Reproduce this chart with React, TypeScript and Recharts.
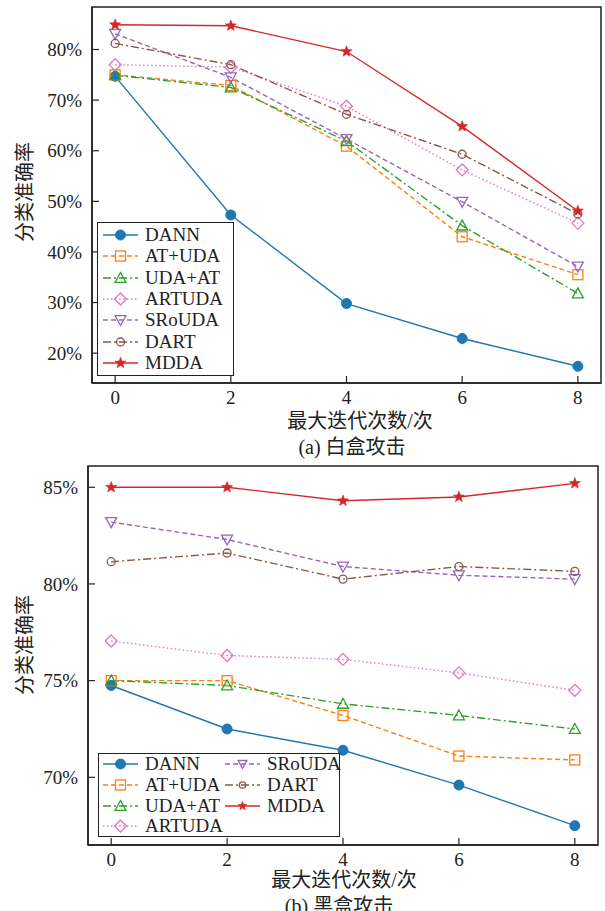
import React from 'react'
import { LineChart, Line, XAxis, YAxis, ReferenceArea } from 'recharts'

const FONT = '"Liberation Serif", "Noto Sans CJK SC", serif'
const INK = '#222'

const iterations = [0, 2, 4, 6, 8]
const xTicks = [0, 2, 4, 6, 8]

// (a) 白盒攻击
const whiteDANN = [74.7, 47.3, 29.8, 22.9, 17.4]
const whiteATUDA = [75.0, 72.9, 60.9, 43.0, 35.5]
const whiteUDAAT = [74.9, 72.5, 61.9, 45.2, 31.8]
const whiteARTUDA = [77.0, 76.5, 68.8, 56.2, 45.7]
const whiteSRoUDA = [83.1, 74.5, 62.3, 49.9, 37.1]
const whiteDART = [81.2, 77.0, 67.2, 59.3, 47.5]
const whiteMDDA = [84.9, 84.7, 79.6, 64.8, 48.1]
const whiteTicks = [20, 30, 40, 50, 60, 70, 80]

// (b) 黑盒攻击
const blackDANN = [74.75, 72.5, 71.4, 69.6, 67.5]
const blackATUDA = [75.0, 75.0, 73.2, 71.1, 70.9]
const blackUDAAT = [75.0, 74.75, 73.8, 73.2, 72.5]
const blackARTUDA = [77.05, 76.3, 76.1, 75.4, 74.5]
const blackSRoUDA = [83.2, 82.3, 80.9, 80.45, 80.25]
const blackDART = [81.15, 81.6, 80.25, 80.9, 80.65]
const blackMDDA = [85.0, 85.0, 84.3, 84.5, 85.2]
const blackTicks = [70, 75, 80, 85]

type Shape = 'circle' | 'square' | 'triUp' | 'diamond' | 'triDown' | 'ring' | 'star'

const SERIES: { key: string; color: string; dash?: string; shape: Shape }[] = [
  { key: 'DANN', color: '#1f77b4', shape: 'circle' },
  { key: 'AT+UDA', color: '#ff7f0e', dash: '5 3', shape: 'square' },
  { key: 'UDA+AT', color: '#2ca02c', dash: '8 3 2 3', shape: 'triUp' },
  { key: 'ARTUDA', color: '#e377c2', dash: '1.5 2.5', shape: 'diamond' },
  { key: 'SRoUDA', color: '#9467bd', dash: '5 3', shape: 'triDown' },
  { key: 'DART', color: '#8c564b', dash: '8 3 2 3', shape: 'ring' },
  { key: 'MDDA', color: '#d62728', shape: 'star' },
]

function rows(cols: number[][]) {
  return iterations.map((it, i) => {
    const r: Record<string, number> = { it }
    SERIES.forEach((s, j) => { r[s.key] = cols[j][i] })
    return r
  })
}

const whiteData = rows([whiteDANN, whiteATUDA, whiteUDAAT, whiteARTUDA, whiteSRoUDA, whiteDART, whiteMDDA])
const blackData = rows([blackDANN, blackATUDA, blackUDAAT, blackARTUDA, blackSRoUDA, blackDART, blackMDDA])

function starPath(cx: number, cy: number, R: number) {
  const r = R * 0.42
  let d = ''
  for (let i = 0; i < 10; i++) {
    const rad = i % 2 ? r : R
    const a = -Math.PI / 2 + (i * Math.PI) / 5
    d += (i ? 'L' : 'M') + (cx + rad * Math.cos(a)).toFixed(2) + ',' + (cy + rad * Math.sin(a)).toFixed(2)
  }
  return d + 'Z'
}

function Marker({ shape, cx, cy, color, s = 1 }: { shape: Shape; cx: number; cy: number; color: string; s?: number }) {
  const sw = 1.3
  switch (shape) {
    case 'circle':
      return <circle cx={cx} cy={cy} r={5 * s} fill={color} stroke={color} strokeWidth={1} />
    case 'square':
      return <rect x={cx - 5 * s} y={cy - 5 * s} width={10 * s} height={10 * s} fill="none" stroke={color} strokeWidth={sw} />
    case 'triUp': {
      const h = 5.5 * s
      return <polygon points={`${cx},${cy - h} ${cx + h},${cy + h * 0.8} ${cx - h},${cy + h * 0.8}`} fill="none" stroke={color} strokeWidth={sw} />
    }
    case 'triDown': {
      const h = 5.5 * s
      return <polygon points={`${cx},${cy + h} ${cx + h},${cy - h * 0.8} ${cx - h},${cy - h * 0.8}`} fill="none" stroke={color} strokeWidth={sw} />
    }
    case 'diamond': {
      const h = 6 * s
      return <polygon points={`${cx},${cy - h} ${cx + h},${cy} ${cx},${cy + h} ${cx - h},${cy}`} fill="none" stroke={color} strokeWidth={sw} />
    }
    case 'ring':
      return <circle cx={cx} cy={cy} r={4 * s} fill="none" stroke={color} strokeWidth={sw} />
    case 'star':
      return <path d={starPath(cx, cy, 5.8 * s)} fill={color} stroke={color} strokeWidth={0.6} />
  }
}

function LegendBox({ left, top, width, height, items }: {
  left: number; top: number; width: number; height: number
  items: { idx: number; x: number; y: number; s?: number }[]
}) {
  return (
    <div style={{ position: 'absolute', left, top, width, height, border: `1.5px solid ${INK}`, background: '#fff', boxSizing: 'border-box' }}>
      {items.map(({ idx, x, y, s }) => {
        const it = SERIES[idx]
        return (
          <div key={it.key} style={{ position: 'absolute', left: x, top: y - 10, height: 20, display: 'flex', alignItems: 'center' }}>
            <svg width={36} height={20}>
              <line x1={0} y1={10} x2={35} y2={10} stroke={it.color} strokeWidth={1.4} strokeDasharray={it.dash} />
              <Marker shape={it.shape} cx={17.5} cy={10} color={it.color} s={s ?? 1} />
            </svg>
            <span style={{ marginLeft: 6, fontSize: 19, color: INK, lineHeight: '20px' }}>{it.key}</span>
          </div>
        )
      })}
    </div>
  )
}

function Centered({ x, y, text, rotate = false, size = 19 }: { x: number; y: number; text: string; rotate?: boolean; size?: number }) {
  return (
    <div style={{
      position: 'absolute', left: x, top: y, whiteSpace: 'nowrap', fontSize: size, color: INK, lineHeight: 1,
      transform: `translate(-50%, -50%)${rotate ? ' rotate(-90deg)' : ''}`,
    }}>{text}</div>
  )
}

function Panel({ top, height, data, domain, ticks, plot, caption, yLabelY, xLabel, capPos, legend }: {
  top: number; height: number; data: Record<string, number>[]; domain: [number, number]; ticks: number[]
  plot: { left: number; right: number; top: number; bottom: number }
  caption: string; yLabelY: number
  xLabel: [number, number]; capPos: [number, number]
  legend: React.ReactNode
}) {
  const xAxisH = 30
  return (
    <div style={{ position: 'absolute', left: 0, top, width: 605, height }}>
      <LineChart
        width={605}
        height={height}
        data={data}
        margin={{ top: plot.top, right: 605 - plot.right, bottom: height - plot.bottom - xAxisH, left: 0 }}
      >
        <XAxis
          dataKey="it"
          type="number"
          domain={[-0.4, 8.4]}
          ticks={xTicks}
          allowDataOverflow
          height={xAxisH}
          tickSize={-7}
          tickMargin={15}
          axisLine={{ stroke: INK, strokeWidth: 1.5 }}
          tickLine={{ stroke: INK, strokeWidth: 1.2 }}
          tick={{ fill: INK, fontSize: 19, fontFamily: FONT }}
        />
        <YAxis
          type="number"
          domain={domain}
          ticks={ticks}
          allowDataOverflow
          width={plot.left}
          tickSize={-7}
          tickMargin={17}
          tickFormatter={(v: number) => `${v}%`}
          axisLine={{ stroke: INK, strokeWidth: 1.5 }}
          tickLine={{ stroke: INK, strokeWidth: 1.2 }}
          tick={{ fill: INK, fontSize: 19, fontFamily: FONT }}
        />
        <ReferenceArea x1={-0.4} x2={8.4} y1={domain[0]} y2={domain[1]} fill="none" stroke={INK} strokeWidth={1.5} />
        {SERIES.map((s) => (
          <Line
            key={s.key}
            type="linear"
            dataKey={s.key}
            stroke={s.color}
            strokeWidth={1.4}
            strokeDasharray={s.dash}
            isAnimationActive={false}
            dot={(p: any) => <Marker key={`${s.key}-${p.index}`} shape={s.shape} cx={p.cx} cy={p.cy} color={s.color} />}
            activeDot={false}
          />
        ))}
      </LineChart>
      {legend}
      <Centered x={25} y={yLabelY} text="分类准确率" rotate size={20} />
      <Centered x={xLabel[0]} y={xLabel[1]} text="最大迭代次数/次" size={20} />
      <Centered x={capPos[0]} y={capPos[1]} text={caption} size={20} />
    </div>
  )
}

export default function App() {
  return (
    <div style={{ position: 'relative', width: 605, height: 911, fontFamily: FONT, background: '#fff', overflow: 'hidden' }}>
      <style>{'body{margin:0}'}</style>
      <Panel
        top={0}
        height={455}
        data={whiteData}
        domain={[14.1, 88.4]}
        ticks={whiteTicks}
        plot={{ left: 92, right: 601, top: 7, bottom: 383 }}
        caption="(a) 白盒攻击"
        yLabelY={192}
        xLabel={[360, 421]}
        capPos={[352, 447]}
        legend={
          <LegendBox
            left={97} top={222} width={137} height={154}
            items={SERIES.map((_, i) => ({ idx: i, x: 5, y: 12 + i * 21.3 }))}
          />
        }
      />
      <Panel
        top={455}
        height={456}
        data={blackData}
        domain={[66.5, 86.1]}
        ticks={blackTicks}
        plot={{ left: 88, right: 598, top: 11, bottom: 390 }}
        caption="(b) 黑盒攻击"
        yLabelY={190}
        xLabel={[344, 425]}
        capPos={[339, 451]}
        legend={
          <LegendBox
            left={98} top={298} width={242} height={84}
            items={[
              { idx: 0, x: 4, y: 10 },
              { idx: 1, x: 4, y: 31 },
              { idx: 2, x: 4, y: 52 },
              { idx: 3, x: 4, y: 72 },
              { idx: 4, x: 126, y: 10, s: 0.8 },
              { idx: 5, x: 126, y: 31, s: 0.8 },
              { idx: 6, x: 126, y: 52, s: 0.8 },
            ]}
          />
        }
      />
    </div>
  )
}
